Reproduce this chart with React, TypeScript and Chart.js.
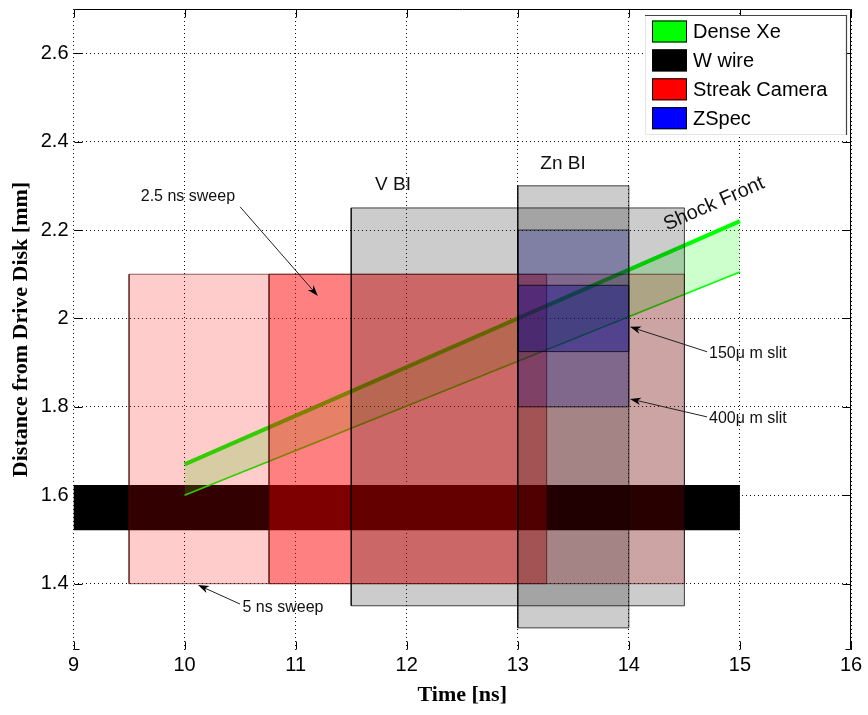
import { useEffect, useRef } from 'react';
import { Chart, registerables } from 'chart.js';

Chart.register(...registerables);

// Dense Xe layer: shock front (upper edge) and rear edge, vs time
const shockTime = [10, 15];
const shockFront = [1.67, 2.22];
const shockRear = [1.6, 2.105];

// W wire position over the whole record
const wireTime = [9, 15];
const wireDist = [1.521, 1.623];

// Streak camera sweeps, both looking at the same distance window
const sweepNames = ['5 ns sweep', '2.5 ns sweep'];
const sweepStart = [9.5, 10.76];
const sweepEnd = [14.5, 13.26];
const sweepDist = [1.4, 2.1];

// Backlighter imaging windows
const biNames = ['V BI', 'Zn BI'];
const biStart = [11.5, 13];
const biEnd = [14.5, 14];
const biLow = [1.35, 1.3];
const biHigh = [2.25, 2.3];

// ZSpec slit coverage
const slitNames = ['400\u03bc m slit', '150\u03bc m slit'];
const slitTime = [13, 14];
const slitLow = [1.8, 1.925];
const slitHigh = [2.2, 2.075];

const xTicks = [9, 10, 11, 12, 13, 14, 15, 16];
const yTicks = [1.4, 1.6, 1.8, 2, 2.2, 2.4, 2.6];
const xRange = [9, 16];
const yRange = [1.25, 2.7];

const legendNames = ['Dense Xe', 'W wire', 'Streak Camera', 'ZSpec'];
const legendColors = ['#00ff00', '#000000', '#ff0000', '#0000ff'];

const SANS = '"Liberation Sans", Arial, Helvetica, sans-serif';
const SERIF = '"Liberation Serif", "Times New Roman", Times, serif';

type Pt = { x: number; y: number };
const box = (x0: number, x1: number, y0: number, y1: number): Pt[] => [
  { x: x0, y: y0 },
  { x: x1, y: y0 },
  { x: x1, y: y1 },
  { x: x0, y: y1 },
  { x: x0, y: y0 },
];

const EDGE = 'rgba(0,0,0,0.72)';
const RED_EDGE = 'rgba(70,0,0,0.6)';

const rectSet = (label: string, pts: Pt[], fillColor: string, order: number, stroke = EDGE, width = 1) => ({
  label,
  data: pts,
  fill: 'shape',
  backgroundColor: fillColor,
  borderColor: stroke,
  borderWidth: width,
  borderJoinStyle: 'miter',
  pointRadius: 0,
  order,
});

// Annotation texts and arrows (positions in data units)
type Note = {
  text: string;
  x: number;
  y: number;
  align: CanvasTextAlign;
  size: number;
  arrow?: [number, number, number, number];
};
const notes: Note[] = [
  { text: sweepNames[1], x: 10.03, y: 2.275, align: 'center', size: 16, arrow: [10.5, 2.2525, 11.2, 2.051] },
  { text: sweepNames[0], x: 10.886, y: 1.347, align: 'center', size: 16, arrow: [10.499, 1.354, 10.121, 1.397] },
  { text: slitNames[1], x: 14.722, y: 1.9195, align: 'left', size: 16, arrow: [14.704, 1.9246, 14.01, 1.981] },
  { text: slitNames[0], x: 14.722, y: 1.7727, align: 'left', size: 16, arrow: [14.704, 1.7773, 14.01, 1.818] },
  { text: biNames[0], x: 11.877, y: 2.302, align: 'center', size: 19 },
  { text: biNames[1], x: 13.407, y: 2.35, align: 'center', size: 19 },
];
const shockLabel = { text: 'Shock Front', x: 14.767, y: 2.259, size: 20 };

const annotations = {
  id: 'annotations',
  afterDatasetsDraw(chart: any) {
    const { ctx } = chart;
    const xs = chart.scales.x;
    const ys = chart.scales.y;
    ctx.save();
    for (const n of notes) {
      if (n.arrow) {
        const [x0, y0, x1, y1] = n.arrow;
        const ax = xs.getPixelForValue(x0);
        const ay = ys.getPixelForValue(y0);
        const bx = xs.getPixelForValue(x1);
        const by = ys.getPixelForValue(y1);
        const ang = Math.atan2(by - ay, bx - ax);
        const len = 11;
        const hw = 3.8;
        ctx.strokeStyle = '#222';
        ctx.lineWidth = 1;
        ctx.beginPath();
        ctx.moveTo(ax, ay);
        ctx.lineTo(bx - Math.cos(ang) * 6, by - Math.sin(ang) * 6);
        ctx.stroke();
        ctx.fillStyle = '#000';
        ctx.beginPath();
        ctx.moveTo(bx, by);
        const baseX = bx - Math.cos(ang) * len;
        const baseY = by - Math.sin(ang) * len;
        ctx.lineTo(baseX + Math.sin(ang) * hw, baseY - Math.cos(ang) * hw);
        ctx.lineTo(bx - Math.cos(ang) * len * 0.7, by - Math.sin(ang) * len * 0.7);
        ctx.lineTo(baseX - Math.sin(ang) * hw, baseY + Math.cos(ang) * hw);
        ctx.closePath();
        ctx.fill();
      }
      ctx.fillStyle = '#111';
      ctx.font = `${n.size}px ${SANS}`;
      ctx.textAlign = n.align;
      ctx.textBaseline = 'middle';
      ctx.fillText(n.text, xs.getPixelForValue(n.x), ys.getPixelForValue(n.y));
    }
    // label follows the slope of the shock front
    const p0x = xs.getPixelForValue(shockTime[0]);
    const p0y = ys.getPixelForValue(shockFront[0]);
    const p1x = xs.getPixelForValue(shockTime[1]);
    const p1y = ys.getPixelForValue(shockFront[1]);
    const rot = Math.atan2(p1y - p0y, p1x - p0x);
    ctx.translate(xs.getPixelForValue(shockLabel.x), ys.getPixelForValue(shockLabel.y));
    ctx.rotate(rot);
    ctx.font = `${shockLabel.size}px ${SANS}`;
    ctx.textAlign = 'center';
    ctx.textBaseline = 'middle';
    ctx.fillStyle = '#111';
    ctx.fillText(shockLabel.text, 0, 0);
    ctx.restore();
  },
};

// Box edges and inward tick marks
const frame = {
  id: 'frame',
  afterDatasetsDraw(chart: any) {
    const { ctx, chartArea: a } = chart;
    const xs = chart.scales.x;
    const ys = chart.scales.y;
    const tl = 8;
    ctx.save();
    ctx.strokeStyle = '#000';
    ctx.lineWidth = 1;
    ctx.beginPath();
    const top = Math.round(a.top) + 0.5;
    const right = Math.round(a.right) - 0.5;
    const bottom = Math.round(a.bottom) - 0.5;
    const left = Math.round(a.left) + 0.5;
    ctx.moveTo(left, top);
    ctx.lineTo(right, top);
    ctx.lineTo(right, bottom);
    ctx.lineTo(right - 5, bottom);
    ctx.moveTo(left, bottom);
    ctx.lineTo(left + 5, bottom);
    for (const v of xTicks) {
      const px = Math.round(xs.getPixelForValue(v)) + 0.5;
      ctx.moveTo(px, bottom);
      ctx.lineTo(px, bottom - tl);
      ctx.moveTo(px, top);
      ctx.lineTo(px, top + tl);
    }
    for (const v of yTicks) {
      const py = Math.round(ys.getPixelForValue(v)) + 0.5;
      ctx.moveTo(left, py);
      ctx.lineTo(left + tl, py);
      ctx.moveTo(right, py);
      ctx.lineTo(right - tl, py);
    }
    ctx.stroke();
    ctx.restore();
  },
};

const legendBox = {
  id: 'legendBox',
  afterDraw(chart: any) {
    const { ctx, chartArea: a } = chart;
    const bx = Math.round(a.right) - 206;
    const by = Math.round(a.top) + 6;
    const bw = 202;
    const bh = 120;
    ctx.save();
    ctx.fillStyle = '#fff';
    ctx.fillRect(bx, by, bw, bh);
    ctx.lineWidth = 1;
    ctx.strokeStyle = '#e4e4e4';
    ctx.beginPath();
    ctx.moveTo(bx + 0.5, by);
    ctx.lineTo(bx + 0.5, by + bh - 0.5);
    ctx.lineTo(bx + bw, by + bh - 0.5);
    ctx.stroke();
    ctx.strokeStyle = '#444';
    ctx.lineWidth = 1.2;
    ctx.beginPath();
    ctx.moveTo(bx, by + 0.5);
    ctx.lineTo(bx + bw - 0.5, by + 0.5);
    ctx.lineTo(bx + bw - 0.5, by + bh);
    ctx.stroke();
    ctx.font = `20px ${SANS}`;
    ctx.textAlign = 'left';
    ctx.textBaseline = 'middle';
    legendNames.forEach((name, i) => {
      const cy = by + 16.5 + i * 28.9;
      ctx.fillStyle = legendColors[i];
      ctx.fillRect(bx + 7, cy - 11, 35, 22);
      ctx.strokeStyle = '#000';
      ctx.lineWidth = 1;
      ctx.strokeRect(bx + 7.5, cy - 10.5, 34, 21);
      ctx.fillStyle = '#000';
      ctx.fillText(name, bx + 48, cy + 1);
    });
    ctx.restore();
  },
};

export default function App() {
  const canvasRef = useRef<HTMLCanvasElement | null>(null);

  useEffect(() => {
    const canvas = canvasRef.current;
    if (!canvas) return;

    const datasets: any[] = [
      rectSet('W wire', box(wireTime[0], wireTime[1], wireDist[0], wireDist[1]), '#000000', 20, '#000000', 0),
      {
        label: 'Dense Xe',
        data: shockTime.map((t, i) => ({ x: t, y: shockFront[i] })),
        borderColor: '#00ff00',
        borderWidth: 4,
        backgroundColor: 'rgba(0,255,0,0.2)',
        fill: '+1',
        pointRadius: 0,
        order: 18,
      },
      {
        label: 'Dense Xe rear',
        data: shockTime.map((t, i) => ({ x: t, y: shockRear[i] })),
        borderColor: '#00ff00',
        borderWidth: 1.6,
        fill: false,
        pointRadius: 0,
        order: 19,
      },
      rectSet(sweepNames[0], box(sweepStart[0], sweepEnd[0], sweepDist[0], sweepDist[1]), 'rgba(255,0,0,0.2)', 17, RED_EDGE),
      rectSet(sweepNames[1], box(sweepStart[1], sweepEnd[1], sweepDist[0], sweepDist[1]), 'rgba(255,0,0,0.375)', 16, RED_EDGE),
      rectSet(biNames[0], box(biStart[0], biEnd[0], biLow[0], biHigh[0]), 'rgba(0,0,0,0.2)', 15),
      rectSet(biNames[1], box(biStart[1], biEnd[1], biLow[1], biHigh[1]), 'rgba(0,0,0,0.2)', 14),
      rectSet(slitNames[0], box(slitTime[0], slitTime[1], slitLow[0], slitHigh[0]), 'rgba(0,0,170,0.22)', 13),
      rectSet(slitNames[1], box(slitTime[0], slitTime[1], slitLow[1], slitHigh[1]), 'rgba(0,0,150,0.35)', 12),
    ];

    const chart = new Chart(canvas, {
      type: 'line',
      data: { datasets },
      plugins: [annotations, frame, legendBox],
      options: {
        responsive: false,
        animation: false,
        devicePixelRatio: 1,
        events: [],
        layout: { padding: { top: 9, right: 17, bottom: 0, left: 0 } },
        elements: { point: { radius: 0 }, line: { tension: 0 } },
        plugins: { legend: { display: false }, tooltip: { enabled: false } },
        scales: {
          x: {
            type: 'linear',
            min: xRange[0],
            max: xRange[1],
            afterBuildTicks: (s: any) => {
              s.ticks = xTicks.map((v) => ({ value: v }));
            },
            afterFit: (s: any) => {
              s.height = 65;
              s.paddingLeft = 0;
              s.paddingRight = 0;
            },
            grid: { color: '#111', lineWidth: 1, drawTicks: false },
            border: { display: false, dash: [1, 3] },
            ticks: {
              color: '#000',
              padding: 3,
              autoSkip: false,
              maxRotation: 0,
              font: { family: SANS, size: 20 },
              callback: (v: any) => String(v),
            },
            title: {
              display: true,
              text: 'Time [ns]',
              color: '#000',
              font: { family: SERIF, size: 22, weight: 'bold' },
              padding: { top: 0, bottom: 6 },
            },
          },
          y: {
            type: 'linear',
            min: yRange[0],
            max: yRange[1],
            afterBuildTicks: (s: any) => {
              s.ticks = yTicks.map((v) => ({ value: v }));
            },
            afterFit: (s: any) => {
              s.width = 73.5;
              s.paddingTop = 0;
              s.paddingBottom = 0;
            },
            grid: { color: '#111', lineWidth: 1, drawTicks: false },
            border: { display: false, dash: [1, 3] },
            ticks: {
              color: '#000',
              padding: 5,
              autoSkip: false,
              font: { family: SANS, size: 20 },
              callback: (v: any) => String(v),
            },
            title: {
              display: true,
              text: 'Distance from Drive Disk [mm]',
              color: '#000',
              font: { family: SERIF, size: 22, weight: 'bold' },
              padding: { top: 8, bottom: 0 },
            },
          },
        },
      } as any,
    });

    return () => chart.destroy();
  }, []);

  return (
    <div style={{ position: 'absolute', left: 0, top: 0, width: 868, height: 715, background: '#fff' }}>
      <canvas ref={canvasRef} width={868} height={715} />
    </div>
  );
}
